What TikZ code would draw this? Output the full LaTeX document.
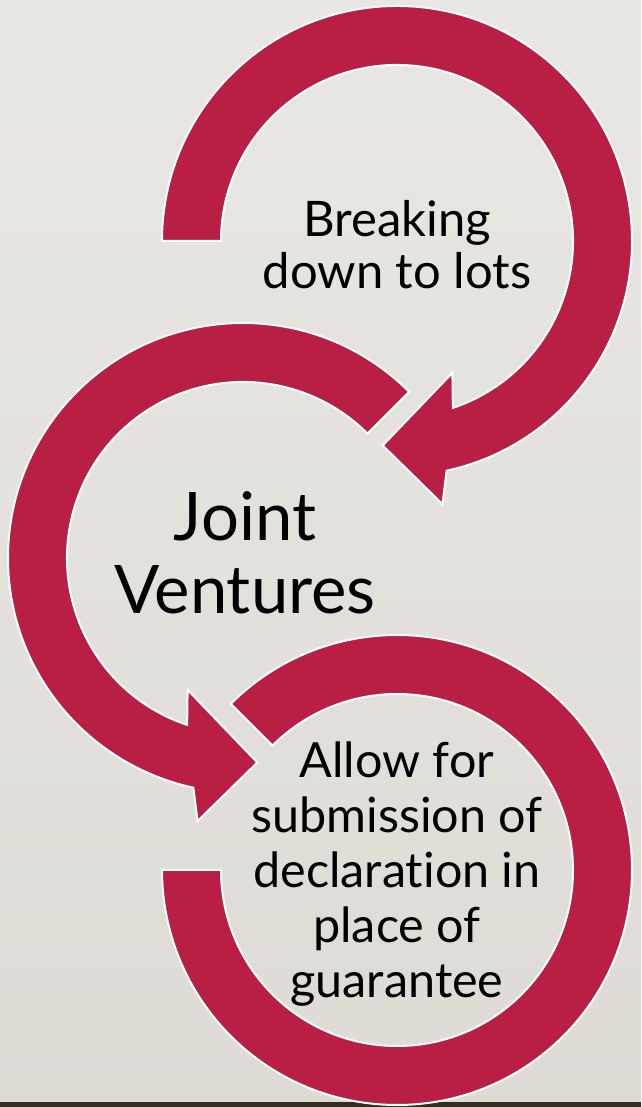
\documentclass[tikz,border=0pt]{standalone}
\usepackage{fontspec}
\setmainfont{Lato}[Ligatures={NoCommon}]
\usetikzlibrary{calc}
\definecolor{arrowred}{RGB}{185,30,68}
\definecolor{bgtop}{RGB}{233,231,227}
\definecolor{bgbot}{RGB}{222,219,213}
\definecolor{stripcol}{RGB}{52,44,32}
\begin{document}
\begin{tikzpicture}[x=1pt,y=1pt,
  band/.style={fill=arrowred, draw=white, line width=2pt, line join=miter},
  lbl/.style={align=center, text=black, inner sep=0pt}]
\useasboundingbox (0,0) rectangle (641,1107);
\shade[top color=bgtop, bottom color=bgbot] (0,0) rectangle (641,1107);
\fill[stripcol] (0,0) rectangle (641,5);
\coordinate (c1) at (397,866);
\coordinate (c2) at (243,549);
\coordinate (c3) at (397,237);
% arrow 3 (bottom, no head)
\path[band] ($(c3)+(135:235)$) arc[start angle=135, end angle=-180, radius=235]
  -- ($(c3)+(180:176)$) arc[start angle=-180, end angle=135, radius=176] -- cycle;
% arrow 2 (middle, counter-clockwise)
\path[band] ($(c2)+(45:235)$) arc[start angle=45, end angle=257.8, radius=235]
  -- ($(c2)+(260.2:267)$) -- ($(c2)+(274:205)$) -- ($(c2)+(247.2:143)$)
  -- ($(c2)+(251.5:176)$) arc[start angle=251.5, end angle=45, radius=176] -- cycle;
% arrow 1 (top, clockwise)
\path[band] ($(c1)+(180:235)$) arc[start angle=180, end angle=-77.8, radius=235]
  -- ($(c1)+(-80.2:267)$) -- ($(c1)+(-94:205)$) -- ($(c1)+(-67.2:143)$)
  -- ($(c1)+(-71.5:176)$) arc[start angle=-71.5, end angle=180, radius=176] -- cycle;
% labels
\node[lbl, font=\fontsize{49}{52}\selectfont] (t1) at ($(c1)+(0,-4)$) {Breaking\\down to lots};
\node[lbl, font=\fontsize{67}{73}\selectfont] (t2) at ($(c2)+(2,5)$) {Joint\\Ventures};
\node[lbl, font=\fontsize{48.5}{55}\selectfont] (t3) at ($(c3)+(0,-4)$) {Allow for\\submission of\\declaration in\\place of\\guarantee};
\end{tikzpicture}
\end{document}
